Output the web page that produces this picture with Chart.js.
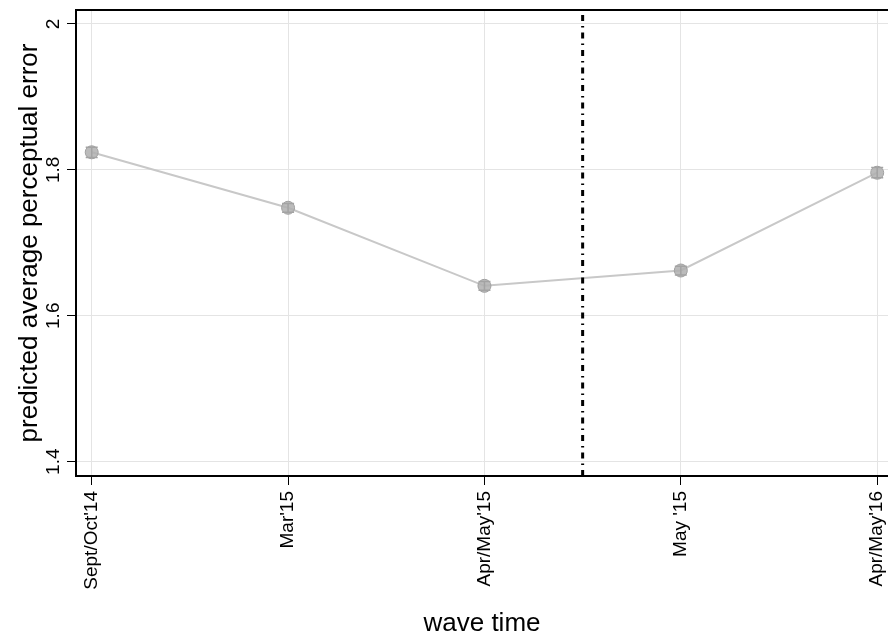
<!DOCTYPE html>
<html>
<head>
<meta charset="utf-8">
<script src="https://cdn.jsdelivr.net/npm/chart.js@4"></script>
<style>
    html, body { margin: 0; padding: 0; background: #fff; }
    #chart { display: block; }
</style>
</head>
<body>
<canvas id="chart" width="888" height="635"></canvas>
<script>
var waves = ["Sept/Oct'14", "Mar'15", "Apr/May'15", "May '15", "Apr/May'16"];
var predicted = [1.824, 1.748, 1.641, 1.662, 1.796];
var ciLow = [1.817, 1.742, 1.635, 1.656, 1.789];
var ciHigh = [1.831, 1.754, 1.647, 1.668, 1.803];
var yTicks = [1.4, 1.6, 1.8, 2];
var breakAt = 2.5; // election, between Apr/May'15 and May '15

var fontFamily = "'Liberation Sans', Arial, Helvetica, sans-serif";

// error bars with caps
var errorBars = {
    id: 'errorBars',
    afterDatasetsDraw: function (chart) {
        var ctx = chart.ctx;
        var xs = chart.scales.x, ys = chart.scales.y;
        ctx.save();
        ctx.strokeStyle = '#a3a3a3';
        ctx.lineWidth = 1.5;
        for (var i = 0; i < predicted.length; i++) {
            var px = xs.getPixelForValue(i);
            var lo = ys.getPixelForValue(ciLow[i]);
            var hi = ys.getPixelForValue(ciHigh[i]);
            ctx.beginPath();
            ctx.moveTo(px, lo); ctx.lineTo(px, hi);
            ctx.moveTo(px - 6, lo); ctx.lineTo(px + 6, lo);
            ctx.moveTo(px - 6, hi); ctx.lineTo(px + 6, hi);
            ctx.stroke();
        }
        ctx.restore();
    }
};

// dash-dot reference line + top frame
var refLine = {
    id: 'refLine',
    afterDraw: function (chart) {
        var ctx = chart.ctx;
        var a = chart.chartArea;
        var px = chart.scales.x.getPixelForValue(breakAt);
        ctx.save();
        ctx.strokeStyle = '#000';
        ctx.lineWidth = 3;
        ctx.setLineDash([6, 5, 1.5, 5]);
        ctx.beginPath();
        ctx.moveTo(px, a.bottom);
        ctx.lineTo(px, a.top);
        ctx.stroke();
        ctx.setLineDash([]);
        ctx.lineWidth = 2;
        ctx.beginPath();
        ctx.moveTo(a.left, a.top);
        ctx.lineTo(a.right, a.top);
        ctx.stroke();
        ctx.restore();
    }
};

new Chart(document.getElementById('chart'), {
    type: 'line',
    data: {
        datasets: [{
            data: predicted.map(function (v, i) { return { x: i, y: v }; }),
            borderColor: '#c8c8c8',
            borderWidth: 2,
            backgroundColor: 'rgba(175,175,175,0.85)',
            pointBorderColor: '#a0a0a0',
            pointBorderWidth: 1,
            pointRadius: 6.5,
            tension: 0,
            clip: false
        }]
    },
    options: {
        responsive: false,
        animation: false,
        layout: { autoPadding: false, padding: { top: 10, right: 0, left: 0, bottom: 0 } },
        plugins: {
            legend: { display: false },
            tooltip: { enabled: false }
        },
        scales: {
            x: {
                type: 'linear',
                min: -0.08,
                max: 4.055,
                afterBuildTicks: function (scale) {
                    scale.ticks = waves.map(function (w, i) { return { value: i }; });
                },
                afterFit: function (scale) {
                    scale.height = 159;
                    scale.paddingLeft = 0;
                    scale.paddingRight = 0;
                },
                ticks: {
                    autoSkip: false,
                    minRotation: 90,
                    maxRotation: 90,
                    padding: 6,
                    color: '#000',
                    font: { family: fontFamily, size: 19 },
                    callback: function (v) { return waves[v]; }
                },
                grid: { color: '#e4e4e4', tickColor: '#000', tickLength: 9, lineWidth: 1 },
                border: { color: '#000', width: 2 },
                title: {
                    display: true,
                    text: 'wave time',
                    color: '#000',
                    font: { family: fontFamily, size: 26 },
                    padding: { top: 0, bottom: -4 }
                }
            },
            y: {
                min: 1.3804,
                max: 2.019,
                afterBuildTicks: function (scale) {
                    scale.ticks = yTicks.map(function (v) { return { value: v }; });
                },
                afterFit: function (scale) {
                    scale.width = 76;
                    scale.paddingTop = 0;
                    scale.paddingBottom = 0;
                },
                ticks: {
                    minRotation: 90,
                    crossAlign: 'center',
                    padding: 0,
                    color: '#000',
                    font: { family: fontFamily, size: 19 },
                    callback: function (v) { return String(v); }
                },
                grid: { color: '#e4e4e4', tickColor: '#000', tickLength: 9, lineWidth: 1 },
                border: { color: '#000', width: 2 },
                title: {
                    display: true,
                    text: 'predicted average perceptual error',
                    color: '#000',
                    font: { family: fontFamily, size: 26 },
                    padding: { top: 14, bottom: 0 }
                }
            }
        }
    },
    plugins: [errorBars, refLine]
});
</script>
</body>
</html>
